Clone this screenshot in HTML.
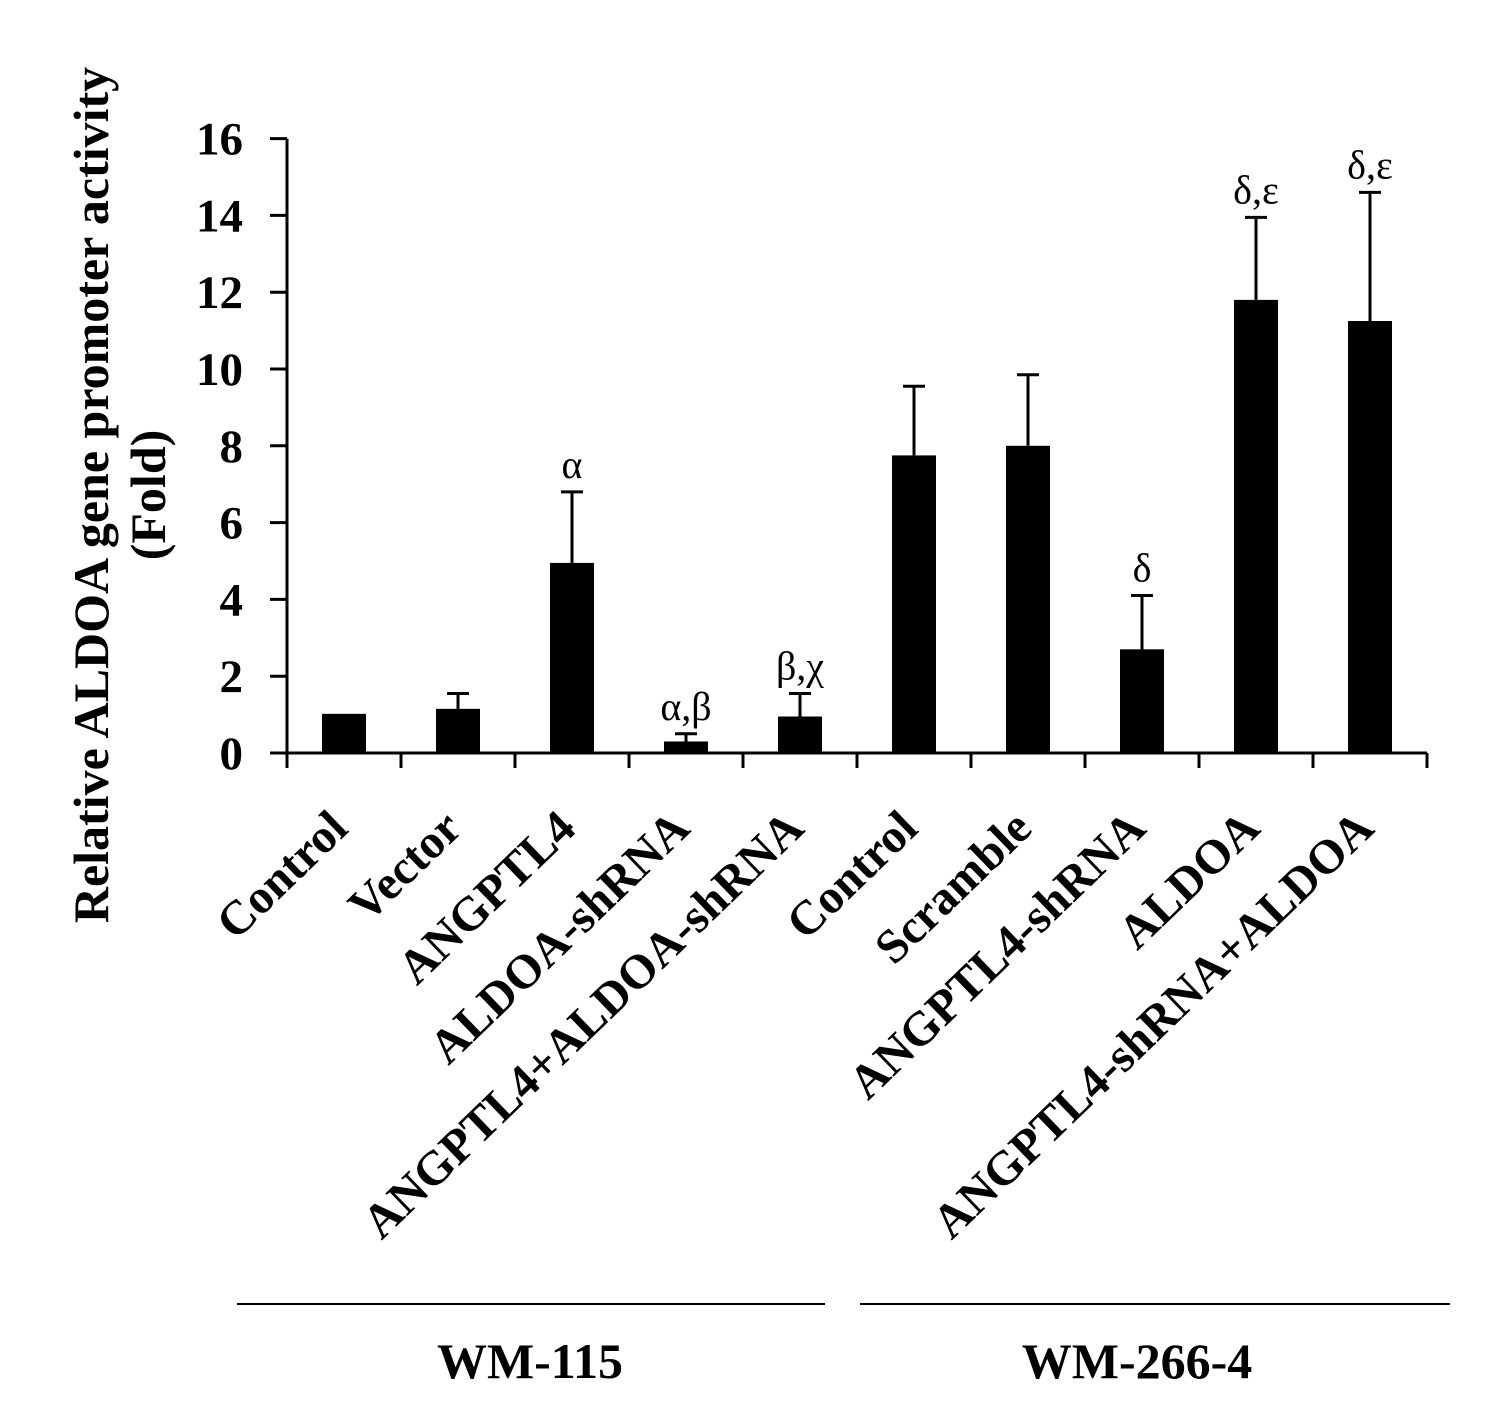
<!DOCTYPE html>
<html><head><meta charset="utf-8"><style>
body{margin:0;background:#fff}
svg{display:block;font-family:"Liberation Serif",serif}
</style></head><body>
<svg id="chart" width="1512" height="1409"></svg>
<script>
const categories=["Control","Vector","ANGPTL4","ALDOA-shRNA","ANGPTL4+ALDOA-shRNA","Control","Scramble","ANGPTL4-shRNA","ALDOA","ANGPTL4-shRNA+ALDOA"];
const values=[1.02,1.15,4.95,0.3,0.95,7.75,8.0,2.7,11.8,11.25];
const errTops=[null,1.55,6.8,0.5,1.55,9.55,9.85,4.1,13.95,14.6];
const annotations=["","","α","α,β","β,χ","","","δ","δ,ε","δ,ε"];
const yTicks=[0,2,4,6,8,10,12,14,16];
const groups=[{label:"WM-115",from:0,to:5},{label:"WM-266-4",from:5,to:10}];

const NS="http://www.w3.org/2000/svg";
const svg=document.getElementById('chart');
const x0=287,y0=753,ppu=38.4,cw=114,bw=44;
const y=v=>y0-v*ppu;
const xc=i=>x0+cw/2+cw*i;
function el(t,a,p){const e=document.createElementNS(NS,t);for(const k in a)e.setAttribute(k,a[k]);(p||svg).appendChild(e);return e;}

let ax=el('line',{x1:x0,y1:y(16),x2:x0,y2:y0+15,stroke:'#000','stroke-width':3});


let xa=el('line',{x1:x0-17,y1:y0,x2:x0+cw*categories.length,y2:y0,stroke:'#000','stroke-width':3});


yTicks.forEach(t=>{
  let l=el('line',{x1:x0-17,y1:y(t),x2:x0,y2:y(t),stroke:'#000','stroke-width':3});
  
  
  let tx=el('text',{x:243,y:y(t)+16,'text-anchor':'end','font-size':47,'font-weight':'bold'});
  tx.textContent=t;
  
  
});
for(let i=1;i<=categories.length;i++){
  let l=el('line',{x1:x0+cw*i,y1:y0,x2:x0+cw*i,y2:y0+15,stroke:'#000','stroke-width':3});
  
  
}
categories.forEach((c,i)=>{
  const cx=xc(i);
  let b=el('rect',{x:cx-bw/2,y:y(values[i]),width:bw,height:y0-y(values[i]),fill:'#000'});
  
  
  if(errTops[i]!=null){
    let e=el('path',{d:`M${cx},${y(values[i])}V${y(errTops[i])}M${cx-11},${y(errTops[i])}H${cx+11}`,stroke:'#000','stroke-width':3,fill:'none'});
    
    
  }
  if(annotations[i]){
    let a=el('text',{x:cx,y:y(errTops[i]??values[i])-14,'text-anchor':'middle','font-size':40});
    a.textContent=annotations[i];
    
    
  }
  let lt=el('text',{transform:`translate(${cx+6},${y0+78}) rotate(-44)`,'text-anchor':'end','font-size':48,'font-weight':'bold'});
  lt.textContent=c;
  
  
});
const gx=[[237,825,530],[860,1450,1137]];
groups.forEach((g,k)=>{
  const [a,b,m]=gx[k];
  let l=el('line',{x1:a,y1:1304,x2:b,y2:1304,stroke:'#000','stroke-width':2});
  
  
  let t=el('text',{x:m,y:1378,'text-anchor':'middle','font-size':50,'font-weight':'bold'});
  t.textContent=g.label;
  
  
});
let yt=el('text',{transform:'translate(108,495) rotate(-90)','text-anchor':'middle','font-size':50,'font-weight':'bold'});
yt.textContent='Relative ALDOA gene promoter activity';


let yt2=el('text',{transform:'translate(165,495) rotate(-90)','text-anchor':'middle','font-size':50,'font-weight':'bold'});
yt2.textContent='(Fold)';


</script>
</body></html>
